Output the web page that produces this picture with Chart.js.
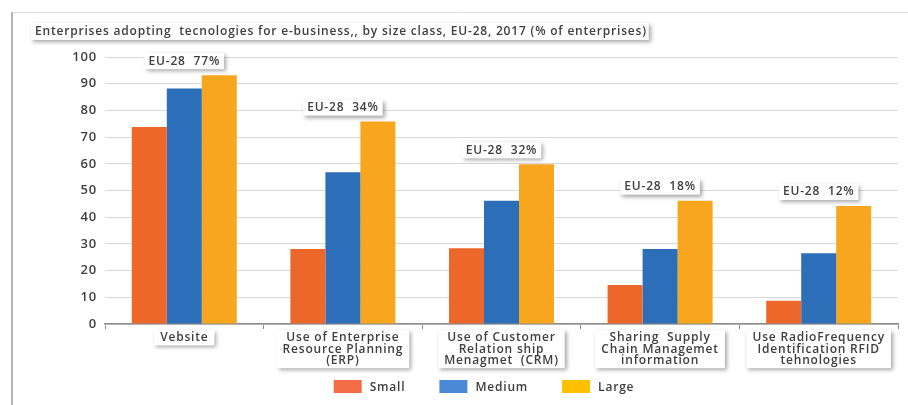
<!DOCTYPE html>
<html>
<head>
<meta charset="utf-8">
<title>Enterprises adopting technologies for e-business</title>
<script src="https://cdn.jsdelivr.net/npm/chart.js@4.4.0/dist/chart.umd.min.js"></script>
<style>
    html, body { margin: 0; padding: 0; background: #ffffff; }
    canvas { display: block; }
</style>
</head>
<body>
<canvas id="adoption-chart" width="908" height="405"></canvas>
<script>
// Data
const titleText = 'Enterprises adopting  tecnologies for e-business,, by size class, EU-28, 2017 (% of enterprises)';
const categories = [
    'Vebsite',
    ['Use of Enterprise', 'Resource Planning', '(ERP)'],
    ['Use of Customer', 'Relation ship', 'Menagmet  (CRM)'],
    ['Sharing  Supply', 'Chain Managemet', 'information'],
    ['Use RadioFrequency', 'Identification RFID', 'tehnologies']
];
const seriesNames = ['Small', 'Medium', 'Large'];
const smallValues = [73.8, 28.1, 28.4, 14.6, 8.7];
const mediumValues = [88.2, 56.8, 46.2, 28.1, 26.5];
const largeValues = [93.2, 75.8, 59.8, 46.2, 44.2];
const eu28Totals = [77, 34, 32, 18, 12];
const yTickValues = [0, 10, 20, 30, 40, 50, 60, 70, 80, 90, 100];

// Styles
const barColors = ['#ED672A', '#2C6EB7', '#F7A61E'];
const legendColors = ['#F36E46', '#4A89D6', '#FFC000'];
const textColor = '#3f3f3f';
const fontFamily = '"Open Sans", "DejaVu Sans", sans-serif';
const labelFont = '600 12px ' + fontFamily;
const labelLineHeight = 11.4;
const letterSpacing = '0.8px';

Chart.defaults.font.family = fontFamily;
Chart.defaults.color = textColor;

function shadowBox(ctx, x, y, w, h) {
    ctx.save();
    ctx.shadowColor = 'rgba(0, 0, 0, 0.35)';
    ctx.shadowBlur = 4;
    ctx.shadowOffsetX = 2;
    ctx.shadowOffsetY = 2;
    ctx.fillStyle = '#ffffff';
    ctx.fillRect(x, y, w, h);
    ctx.restore();
}

// Frame, title, label boxes, EU-28 notes and the legend
const decorations = {
    id: 'decorations',
    beforeLayout(chart) {
        chart.ctx.letterSpacing = letterSpacing;
    },
    beforeDraw(chart) {
        const ctx = chart.ctx;
        ctx.letterSpacing = letterSpacing;

        ctx.save();
        ctx.strokeStyle = '#dcdcdc';
        ctx.lineWidth = 1;
        ctx.beginPath();
        ctx.moveTo(11, 12.5);
        ctx.lineTo(chart.width, 12.5);
        ctx.stroke();
        ctx.strokeStyle = '#b4b4b4';
        ctx.lineWidth = 2;
        ctx.beginPath();
        ctx.moveTo(12, 12);
        ctx.lineTo(12, chart.height);
        ctx.stroke();
        ctx.restore();

        ctx.save();
        ctx.font = labelFont;
        const tw = ctx.measureText(titleText).width;
        shadowBox(ctx, 31, 23, tw + 6, 17);
        ctx.fillStyle = textColor;
        ctx.textBaseline = 'middle';
        ctx.fillText(titleText, 35, 32);
        ctx.restore();

        // boxes behind the category labels
        const xScale = chart.scales.x;
        ctx.save();
        ctx.font = labelFont;
        categories.forEach((label, i) => {
            const lines = Array.isArray(label) ? label : [label];
            const w = Math.max(...lines.map(l => ctx.measureText(l).width));
            const cx = xScale.getPixelForTick(i);
            const top = xScale.top + 6;
            shadowBox(ctx, cx - w / 2 - 6, top, w + 12, lines.length * labelLineHeight + 4);
        });
        ctx.restore();
    },
    afterDatasetsDraw(chart) {
        const ctx = chart.ctx;
        const xScale = chart.scales.x;
        const yScale = chart.scales.y;

        ctx.save();
        ctx.font = labelFont;
        ctx.textBaseline = 'middle';
        ctx.textAlign = 'center';
        eu28Totals.forEach((total, i) => {
            const text = 'EU-28  ' + total + '%';
            const w = ctx.measureText(text).width;
            const cx = xScale.getPixelForTick(i);
            const cy = yScale.getPixelForValue(largeValues[i]) - 14;
            shadowBox(ctx, cx - w / 2 - 4, cy - 8, w + 8, 16);
            ctx.fillStyle = textColor;
            ctx.fillText(text, cx, cy);
        });
        ctx.restore();
    },
    afterDraw(chart) {
        const ctx = chart.ctx;
        const boxW = 28, boxH = 13, gap = 8, spacing = 34;
        const centerX = 484, boxTop = 380;

        ctx.save();
        ctx.font = labelFont;
        ctx.textBaseline = 'middle';
        const widths = seriesNames.map(n => boxW + gap + ctx.measureText(n).width);
        const total = widths.reduce((a, b) => a + b, 0) + spacing * (widths.length - 1);
        let x = centerX - total / 2;
        seriesNames.forEach((name, i) => {
            ctx.fillStyle = legendColors[i];
            ctx.fillRect(x, boxTop, boxW, boxH);
            ctx.fillStyle = textColor;
            ctx.fillText(name, x + boxW + gap, boxTop + boxH / 2 + 1);
            x += widths[i] + spacing;
        });
        ctx.restore();
    }
};

const ctx = document.getElementById('adoption-chart').getContext('2d');

new Chart(ctx, {
    type: 'bar',
    data: {
        labels: categories,
        datasets: [
            { label: seriesNames[0], data: smallValues, backgroundColor: barColors[0] },
            { label: seriesNames[1], data: mediumValues, backgroundColor: barColors[1] },
            { label: seriesNames[2], data: largeValues, backgroundColor: barColors[2] }
        ]
    },
    options: {
        responsive: false,
        animation: false,
        devicePixelRatio: 1,
        layout: {
            padding: { top: 57, left: 71, right: 10, bottom: 31 }
        },
        datasets: {
            bar: {
                categoryPercentage: 0.662,
                barPercentage: 1.0,
                borderWidth: 0
            }
        },
        plugins: {
            legend: { display: false },
            title: { display: false },
            tooltip: { enabled: false }
        },
        scales: {
            x: {
                grid: {
                    offset: true,
                    drawOnChartArea: false,
                    drawTicks: true,
                    tickLength: 5,
                    color: '#8c8c8c'
                },
                border: {
                    color: '#8c8c8c',
                    width: 1.5
                },
                ticks: {
                    font: { size: 12, weight: '600', lineHeight: 0.95 },
                    color: textColor,
                    padding: 3,
                    maxRotation: 0,
                    autoSkip: false
                },
                afterFit(scale) {
                    scale.height = 50;
                }
            },
            y: {
                min: 0,
                max: 100,
                afterBuildTicks(scale) {
                    scale.ticks = yTickValues.map(v => ({ value: v }));
                },
                grid: {
                    color: '#d9d9d9',
                    drawTicks: false
                },
                border: { display: false },
                ticks: {
                    font: { size: 13, weight: '600' },
                    color: textColor,
                    padding: 8
                },
                afterFit(scale) {
                    scale.width = 34;
                }
            }
        }
    },
    plugins: [decorations]
});
</script>
</body>
</html>
